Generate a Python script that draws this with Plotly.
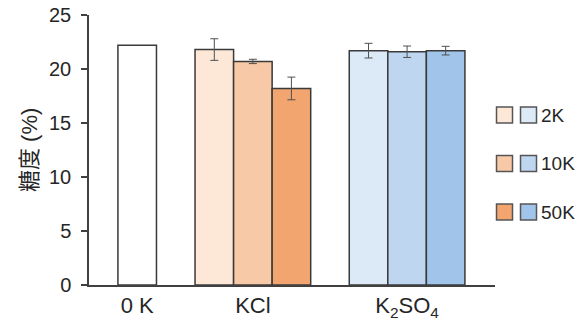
import plotly.graph_objects as go

# ---- data ----
groups = ["0 K", "KCl", "K<sub>2</sub>SO<sub>4</sub>"]
group_pos = [0, 3, 7]
series = ["2K", "10K", "50K"]
zeroK_value = [22.2]
kcl_values = [21.8, 20.7, 18.2]
kcl_errors = [1.0, 0.2, 1.05]
k2so4_values = [21.7, 21.6, 21.7]
k2so4_errors = [0.68, 0.53, 0.4]
y_ticks = [0, 5, 10, 15, 20, 25]

# ---- styles ----
orange = ["#fde8d7", "#f8c9a6", "#f2a56f"]
blue = ["#dce9f6", "#bed6f0", "#a1c4ea"]
offsets = [-1.5, -0.5, 0.5]
edge = "#3a3a3a"
font_family = "Liberation Sans, Arial, Noto Sans CJK JP, sans-serif"
txt = "#262626"

fig = go.Figure()

fig.add_trace(go.Bar(
    x=[group_pos[0]], y=zeroK_value, width=1, offset=-0.5,
    marker=dict(color="white", line=dict(color=edge, width=1.5)),
    showlegend=False,
))

for i, s in enumerate(series):
    fig.add_trace(go.Bar(
        x=group_pos[1:], y=[kcl_values[i], k2so4_values[i]],
        width=1, offset=offsets[i],
        marker=dict(color=[orange[i], blue[i]], line=dict(color=edge, width=1.5)),
        error_y=dict(type="data", array=[kcl_errors[i], k2so4_errors[i]],
                     color="#505050", thickness=1, width=4),
        name=s, showlegend=False,
    ))

# custom legend: two swatches per row, drawn on an auxiliary axis
rows = list(range(len(series)))
fig.add_trace(go.Scatter(
    x=[0] * len(rows), y=rows, mode="markers", xaxis="x2", yaxis="y2",
    marker=dict(symbol="square", size=16, color=orange, line=dict(color="#555", width=1.5)),
    showlegend=False, hoverinfo="skip", cliponaxis=False,
))
fig.add_trace(go.Scatter(
    x=[1] * len(rows), y=rows, mode="markers", xaxis="x2", yaxis="y2",
    marker=dict(symbol="square", size=16, color=blue, line=dict(color="#555", width=1.5)),
    showlegend=False, hoverinfo="skip", cliponaxis=False,
))

legend_labels = [dict(
    text=s, xref="x2", yref="y2", x=1.44, y=r, xanchor="left", yanchor="middle",
    showarrow=False, font=dict(size=19, color=txt, family=font_family),
) for r, s in zip(rows, series)]

# page body has an 8px margin: figure is sized/offset to fill the 586x321 view
fig.update_layout(
    width=578, height=313,
    margin=dict(l=81, r=0, t=7, b=36, autoexpand=False),
    paper_bgcolor="white", plot_bgcolor="white",
    barmode="overlay",
    font=dict(family=font_family, size=20, color=txt),
    xaxis=dict(
        domain=[0, 0.8169], range=[-1.25, 9.28],
        tickvals=group_pos, ticktext=groups,
        showline=True, linecolor="#404040", linewidth=1.5,
        ticks="", showgrid=False, zeroline=False,
        tickfont=dict(size=22, color=txt),
        automargin=False, ticklabeloverflow="allow",
    ),
    yaxis=dict(
        range=[0, 25], tickvals=y_ticks,
        showline=True, linecolor="#404040", linewidth=1.5,
        ticks="outside", ticklen=6, tickwidth=1.5, tickcolor="#404040",
        showgrid=False, zeroline=False,
        tickfont=dict(size=20, color=txt),
        ticklabelstandoff=6, automargin=False, ticklabeloverflow="allow",
    ),
    xaxis2=dict(domain=[0.83, 1], range=[-0.125, 3.396], visible=False, fixedrange=True),
    yaxis2=dict(domain=[0, 1], range=[3.505, -2.062], visible=False, fixedrange=True,
                anchor="x2"),
    annotations=[dict(
        text="糖度 (%)", xref="paper", yref="paper", x=-0.1207, y=0.5,
        xanchor="center", yanchor="middle", textangle=-90, showarrow=False,
        font=dict(size=22, color=txt, family="Liberation Sans, Noto Sans CJK JP, sans-serif"),
    )] + legend_labels,
)

fig.write_html("out.html")
